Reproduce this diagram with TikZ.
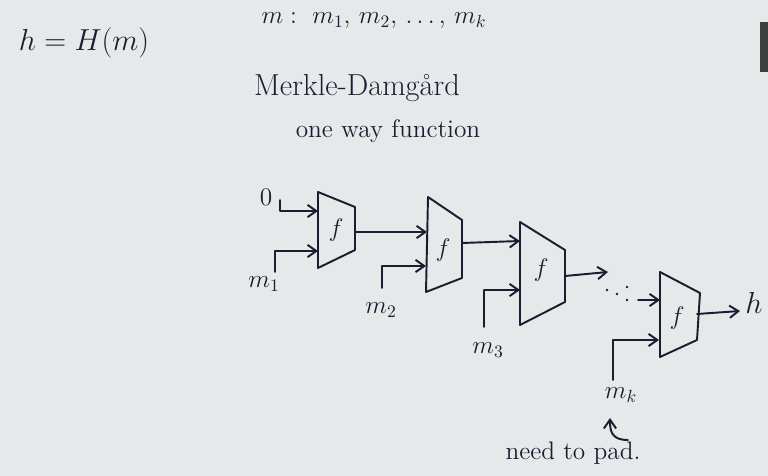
\documentclass[tikz,border=0pt]{standalone}
\usepackage{tikz}
\usetikzlibrary{positioning}
\usetikzlibrary{arrows.meta}
\definecolor{board}{RGB}{229,233,233}
\definecolor{ink}{RGB}{28,28,48}
\tikzset{
  inkline/.style={draw=ink, line width=1.1pt, line join=round, line cap=round},
  feed/.style={inkline, -{Straight Barb[length=5pt,width=7pt]}},
  lbl/.style={text=ink, inner sep=1pt, font=\Large},
}

\begin{document}
\begin{tikzpicture}[x=0.02cm, y=-0.02cm]

    % Board
    \fill[board] (0,0) rectangle (768,476);
    \useasboundingbox (0,0) rectangle (768,476);
    \fill[black!75] (760,22) rectangle (768,72);

    % Define nodes
    \node[lbl, font=\LARGE] (hash) at (84,43)  {$h = H(m)$};
    \node[lbl]              (msg)  at (374,21) {$m:\ m_1,\, m_2,\, \ldots,\, m_k$};
    \node[lbl, font=\LARGE] (md)   at (357,88) {Merkle-Damgård};
    \node[lbl]              (owf)  at (388,131) {one way function};

    % compression boxes
    \draw[inkline] (318,192) -- (355,207) -- (355,250) -- (318,268) -- cycle;
    \draw[inkline] (428,197) -- (462,220) -- (462,278) -- (426,292) -- cycle;
    \draw[inkline] (520,222) -- (565,250) -- (565,302) -- (520,325) -- cycle;
    \draw[inkline] (660,272) -- (700,293) -- (697,340) -- (660,357) -- cycle;
    \node[lbl] (f1) at (336,230) {$f$};
    \node[lbl] (f2) at (443,250) {$f$};
    \node[lbl] (f3) at (541,270) {$f$};
    \node[lbl] (f4) at (677,318) {$f$};

    % inputs
    \node[lbl] (zero) at (266,197) {$0$};
    \node[lbl] (m1)   at (264,284) {$m_1$};
    \node[lbl] (m2)   at (381,310) {$m_2$};
    \node[lbl] (m3)   at (488,350) {$m_3$};
    \node[lbl] (mk)   at (621,395) {$m_k$};
    \node[lbl, font=\LARGE] (h) at (754,303) {$h$};
    \node[lbl] (pad)  at (573,453) {need to pad.};

    \coordinate (s0)  at (280,200);
    \coordinate (s1)  at (275,272);
    \coordinate (s2)  at (382,288);
    \coordinate (s3)  at (484,327);
    \coordinate (s4)  at (613,380);
    \coordinate (in0) at (318,211);
    \coordinate (in1) at (318,251);
    \coordinate (in2) at (426,266);
    \coordinate (in3) at (520,290);
    \coordinate (in4) at (659,340);
    \coordinate (o1)  at (355,232);
    \coordinate (c2)  at (427,232);
    \coordinate (o2)  at (462,243);
    \coordinate (c3)  at (520,241);
    \coordinate (o3)  at (565,276);
    \coordinate (d3)  at (608,272);
    \coordinate (d4)  at (638,300);
    \coordinate (c4)  at (660,300);
    \coordinate (o4)  at (697,314);
    \coordinate (ho)  at (740,311);

    % Connect the nodes
    \draw[feed] (s0) |- (in0);
    \draw[feed] (s1) |- (in1);
    \draw[feed] (s2) |- (in2);
    \draw[feed] (s3) |- (in3);
    \draw[feed] (s4) |- (in4);
    \draw[feed] (o1) -- (c2);
    \draw[feed] (o2) -- (c3);
    \draw[feed] (o3) -- (d3);
    \draw[feed] (d4) -- (c4);
    \draw[feed] (o4) -- (ho);
    \draw[feed] (628,440) .. controls (612,440) and (610,432) .. (610,418);

    % dots
    \foreach \p in {(607,290),(617,294),(627,287),(627,300)}
      \fill[ink] \p circle (1.3);

\end{tikzpicture}
\end{document}
